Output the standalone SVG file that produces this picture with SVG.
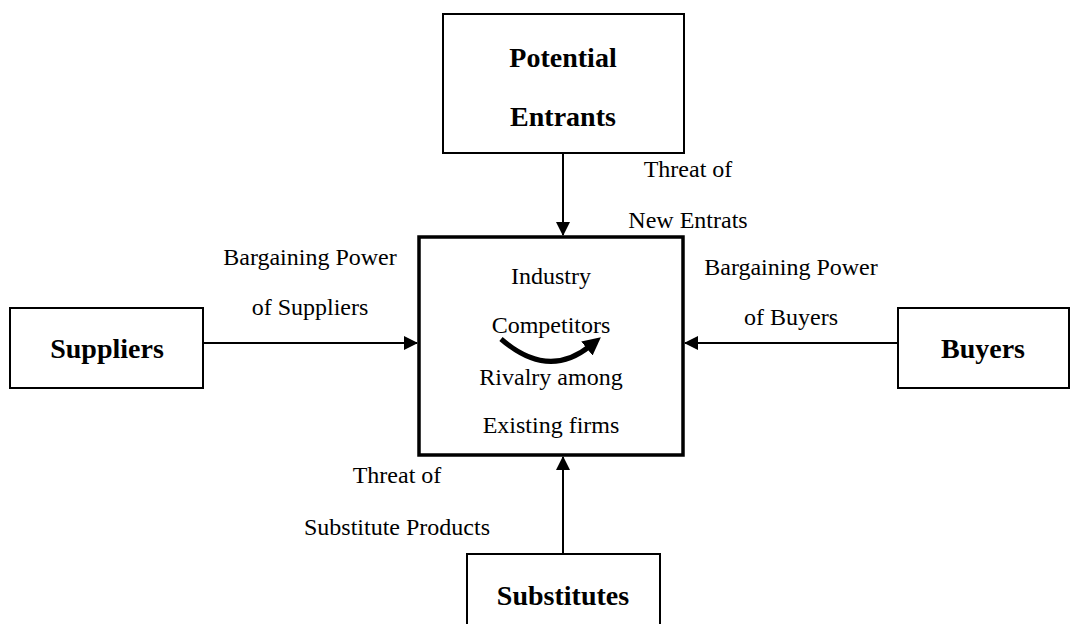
<svg xmlns="http://www.w3.org/2000/svg" width="1079" height="624" viewBox="0 0 1079 624">
<style>
.box{fill:#fff;stroke:#000;stroke-width:2}
.main{fill:#fff;stroke:#000;stroke-width:3.5}
.t{font-family:"Liberation Serif","Times New Roman",serif;font-size:24px;fill:#000;text-anchor:middle}
.b{font-family:"Liberation Serif","Times New Roman",serif;font-size:28px;font-weight:bold;fill:#000;text-anchor:middle}
.c{stroke:#000;stroke-width:2;fill:none}
</style>
<defs>
<marker id="ah" markerUnits="userSpaceOnUse" markerWidth="14" markerHeight="14" refX="13" refY="7" orient="auto">
<path d="M0,0 L14,7 L0,14 Z" fill="#000"/>
</marker>
<marker id="ah2" markerUnits="userSpaceOnUse" markerWidth="18" markerHeight="18" refX="4" refY="9" orient="auto">
<path d="M0,0 L18,9 L0,18 Z" fill="#000"/>
</marker>
</defs>
<rect width="1079" height="624" fill="#fff"/>
<g id="connectors">
<line class="c" x1="563" y1="153" x2="563" y2="235" marker-end="url(#ah)"/>
<line class="c" x1="203" y1="343" x2="417" y2="343" marker-end="url(#ah)"/>
<line class="c" x1="898" y1="343" x2="685" y2="343" marker-end="url(#ah)"/>
<line class="c" x1="563" y1="554" x2="563" y2="457" marker-end="url(#ah)"/>
</g>
<g id="industry">
<rect class="main" x="419" y="237" width="264" height="218"/>
<text class="t" x="551" y="284">Industry</text>
<text class="t" x="551" y="333">Competitors</text>
<path d="M501,339 Q548,380 590,346" stroke="#000" stroke-width="5" fill="none" marker-end="url(#ah2)"/>
<text class="t" x="551" y="385">Rivalry among</text>
<text class="t" x="551" y="433">Existing firms</text>
</g>
<g id="potential-entrants">
<rect class="box" x="443" y="14" width="241" height="139"/>
<text class="b" x="563" y="67">Potential</text>
<text class="b" x="563" y="126">Entrants</text>
</g>
<g id="suppliers">
<rect class="box" x="10" y="308" width="193" height="80"/>
<text class="b" x="107" y="358">Suppliers</text>
</g>
<g id="buyers">
<rect class="box" x="898" y="308" width="171" height="80"/>
<text class="b" x="983" y="358">Buyers</text>
</g>
<g id="substitutes">
<rect class="box" x="467" y="554" width="193" height="80"/>
<text class="b" x="563" y="605">Substitutes</text>
</g>
<g id="labels">
<text class="t" x="688" y="177">Threat of</text>
<text class="t" x="688" y="228">New Entrats</text>
<text class="t" x="310" y="265">Bargaining Power</text>
<text class="t" x="310" y="315">of Suppliers</text>
<text class="t" x="791" y="275">Bargaining Power</text>
<text class="t" x="791" y="325">of Buyers</text>
<text class="t" x="397" y="483">Threat of</text>
<text class="t" x="397" y="535">Substitute Products</text>
</g>
</svg>
